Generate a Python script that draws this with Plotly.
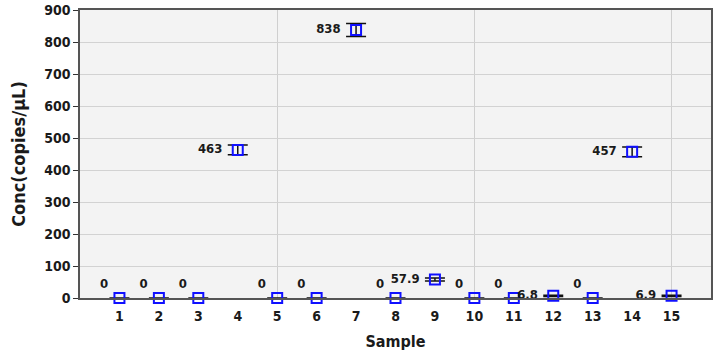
import plotly.graph_objects as go

samples = list(range(1, 16))
conc = [0, 0, 0, 463, 0, 0, 838, 0, 57.9, 0, 0, 6.8, 0, 457, 6.9]
err = [0, 0, 0, 15, 0, 0, 20, 0, 5, 0, 0, 2, 0, 15, 2]
labels = ["0", "0", "0", "463", "0", "0", "838", "0", "57.9", "0", "0", "6.8", "0", "457", "6.9"]
y_ticks = [0, 100, 200, 300, 400, 500, 600, 700, 800, 900]

font_family = "DejaVu Sans Condensed, Open Sans, sans-serif"
positions = ["top left" if v == 0 else "middle left" for v in conc]
shown = [t + "\u00a0" if v == 0 else t + "\u00a0\u00a0" for t, v in zip(labels, conc)]

fig = go.Figure()
fig.add_trace(go.Scatter(
    x=samples, y=conc, mode="markers+text",
    text=shown, textposition=positions,
    textfont=dict(family=font_family, size=13, color="#1a1a1a", weight="bold"),
    marker=dict(symbol="square-open", size=10, color="#1010ff", line=dict(width=2, color="#1010ff")),
    error_y=dict(type="data", array=err, visible=True, color="#111111", thickness=1.5, width=10),
    cliponaxis=False, showlegend=False,
))

fig.update_layout(
    width=715, height=355,
    margin=dict(l=80, r=4, t=10, b=57),
    paper_bgcolor="white", plot_bgcolor="#f3f3f3",
    font=dict(family=font_family, color="#1a1a1a"),
    xaxis=dict(
        range=[0, 16], tickvals=samples, ticktext=[str(s) for s in samples],
        automargin=False,
        showgrid=False, ticks="outside", ticklen=4, tickcolor="rgba(0,0,0,0)",
        tickfont=dict(size=14, weight="bold"),
        title=dict(text="Sample", font=dict(size=16, weight="bold"), standoff=13),
        showline=True, linecolor="#555555", linewidth=1.5, mirror=True,
        minor=dict(tickvals=[5, 10, 15], showgrid=True, gridcolor="#cfcfcf", gridwidth=1, ticks=""),
        zeroline=False,
    ),
    yaxis=dict(
        range=[0, 900.5], tickvals=y_ticks, ticklabeloverflow="allow",
        automargin=False,
        showgrid=True, gridcolor="#d2d2d2", gridwidth=1,
        ticks="outside", ticklen=5, tickcolor="#333333",
        tickfont=dict(size=14, weight="bold"),
        title=dict(text="Conc(copies/μL)", font=dict(size=18, weight="bold"), standoff=14),
        showline=True, linecolor="#555555", linewidth=1.5, mirror=True,
        zeroline=False,
    ),
)

fig.write_html("out.html")
